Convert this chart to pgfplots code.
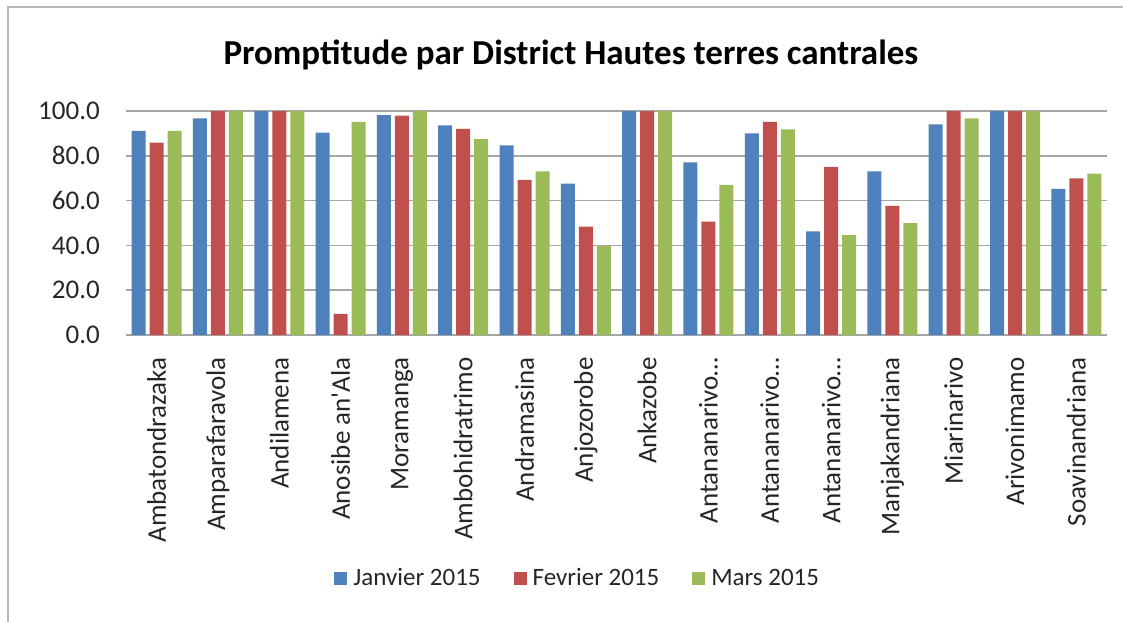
\documentclass[border=0pt]{standalone}
\usepackage{pgfplots}
\pgfplotsset{compat=1.18}
\usepackage{pgfplotstable}
\usepackage{fontspec}
\setmainfont{Carlito}
\definecolor{cblue}{HTML}{4F81BD}
\definecolor{cred}{HTML}{C0504D}
\definecolor{cgreen}{HTML}{9BBB59}
\definecolor{cgrid}{HTML}{A6A6A6}
\pgfplotstableread{
x jan fev mar
0 91.1 85.9 91.1
1 96.7 100 100
2 100 100 100
3 90.3 9.4 95.2
4 98.2 97.9 100
5 93.6 92.0 87.4
6 84.7 69.2 73.1
7 67.6 48.4 39.7
8 100 100 100
9 77.1 50.6 67.0
10 90.0 95.1 91.8
11 46.3 75.1 44.6
12 73.1 57.6 49.9
13 94.0 100 96.7
14 100 100 100
15 65.2 69.9 72.0
}\data
\begin{document}
\begin{tikzpicture}
\useasboundingbox (-126pt,-286pt) rectangle (997pt,335pt);
\draw[cgrid!80, line width=1.5pt] (-118pt,-300pt) -- (-118pt,328pt) -- (1010pt,328pt);
\begin{axis}[
  at={(0,0)}, anchor=south west,
  scale only axis, width=981pt, height=224pt,
  ybar=4pt, bar width=14pt,
  xmin=-0.5, xmax=15.5, ymin=0, ymax=100,
  ytick={0,20,...,100},
  xtick=data,
  xticklabels={Ambatondrazaka,Amparafaravola,Andilamena,Anosibe an\textquotesingle Ala,Moramanga,Ambohidratrimo,Andramasina,Anjozorobe,Ankazobe,Antananarivo…,Antananarivo…,Antananarivo…,Manjakandriana,Miarinarivo,Arivonimamo,Soavinandriana},
  axis line style={draw=none},
  tick style={draw=none},
  ymajorgrids, major grid style={cgrid, line width=1.5pt},
  /pgf/number format/assume math mode=true,
  yticklabel={\pgfmathprintnumber[fixed,fixed zerofill,precision=1]{\tick}},
  yticklabel style={anchor=east, inner sep=0pt, xshift=-26pt, font=\fontsize{27}{32}\selectfont, text=black!85},
  xticklabel style={rotate=90, anchor=east, inner sep=0pt, font=\fontsize{27}{32}\selectfont, text=black!85},
  xticklabel shift=18pt,
  title={Promptitude par District Hautes terres cantrales},
  title style={at={(0.4536,1.179)}, anchor=base, inner sep=0pt, font=\bfseries\fontsize{35}{40}\selectfont},
  legend columns=3,
  legend style={at={(0.4605,-1.085)}, anchor=center, draw=none, font=\fontsize{25}{30}\selectfont, text=black!85,
    /tikz/every even column/.append style={column sep=31pt}},
  legend image code/.code={\fill[#1,draw=none] (0pt,-6.5pt) rectangle (13pt,6.5pt); \path (17pt,0pt);},
]
\addplot[fill=cblue, draw=none] table[x=x,y=jan]{\data};
\addplot[fill=cred, draw=none] table[x=x,y=fev]{\data};
\addplot[fill=cgreen, draw=none] table[x=x,y=mar]{\data};
\legend{Janvier 2015,Fevrier 2015,Mars 2015}
\end{axis}
\end{tikzpicture}
\end{document}
